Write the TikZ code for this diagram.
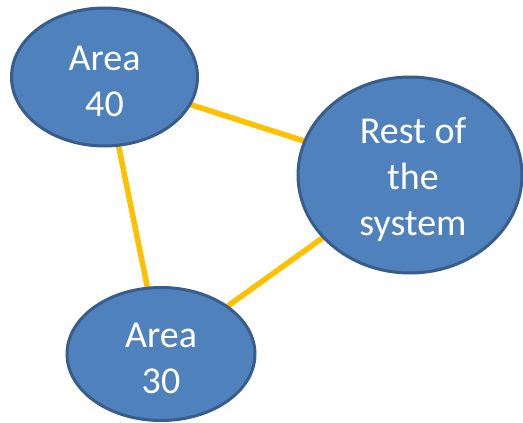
\documentclass[tikz,border=0pt]{standalone}
\usepackage{fontspec}
\setmainfont{Carlito}
\usetikzlibrary{shapes.geometric}
\definecolor{areafill}{HTML}{4F81BD}
\definecolor{areaedge}{HTML}{385D8A}
\definecolor{tieline}{HTML}{FFC000}
\tikzset{
  region/.style={ellipse, draw=areaedge, fill=areafill, line width=3pt,
    inner sep=0pt},
  caption/.style={text=white, align=center, inner sep=0pt,
    font=\fontsize{38}{46}\selectfont},
  tie/.style={draw=tieline, line width=5.5pt}
}
\begin{document}
\begin{tikzpicture}[x=1pt,y=-1pt]
\useasboundingbox (0,0) rectangle (523,423);
% links, drawn first so the ellipses cover their ends
\coordinate (c40) at (104.5,77);
\coordinate (crest) at (410,175);
\coordinate (c30) at (161,354);
\path[tie] (c40) -- (crest);
\path[tie] (c40) -- (c30);
\path[tie] (crest) -- (c30);
% areas
\node[region, minimum width=186pt, minimum height=138pt] (a40) at (c40) {};
\node[region, minimum width=224pt, minimum height=196pt] (rest) at (crest) {};
\node[region, minimum width=188pt, minimum height=133pt] (a30) at (c30) {};
% names inside the areas
\node[caption] (t40) at ([yshift=-4pt]a40.center) {Area\\40};
\node[caption] (trest) at ([xshift=3pt,yshift=-5pt]rest.center) {Rest of\\the\\system};
\node[caption] (t30) at ([yshift=-4pt]a30.center) {Area\\30};
\end{tikzpicture}
\end{document}
